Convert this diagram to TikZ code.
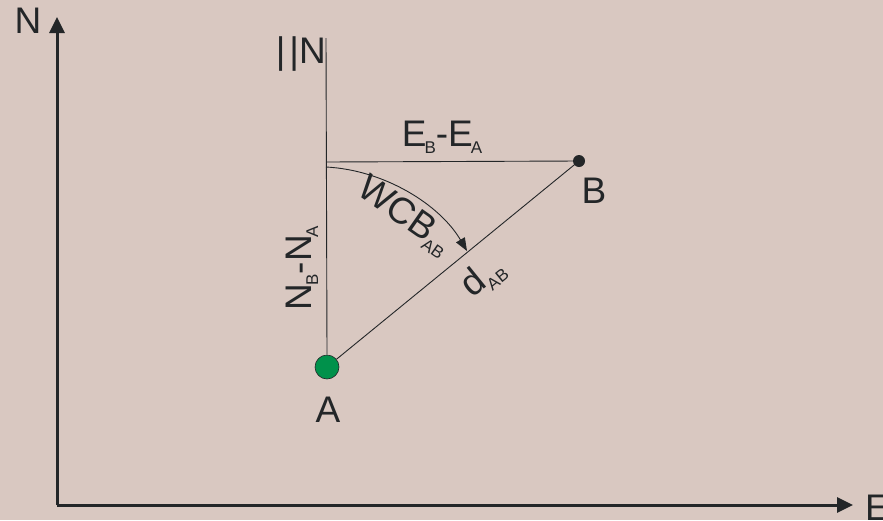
\documentclass[tikz,border=0pt]{standalone}
\usepackage{fontspec}
\setmainfont{Liberation Sans}
\usetikzlibrary{arrows.meta}
\definecolor{bg}{RGB}{217,200,193}
\definecolor{ink}{RGB}{35,38,40}
\definecolor{agreen}{RGB}{0,145,75}
\newcommand{\lbl}{\fontsize{37}{40}\selectfont}
\newcommand{\sbs}[1]{\kern-2pt\raisebox{-7pt}{\fontsize{17}{17}\selectfont #1}}
\tikzset{
  axis/.style={draw=ink, line width=3pt, -{Triangle[length=16pt,width=15pt]}},
  thin/.style={draw=ink, line width=0.9pt},
  txt/.style={inner sep=0pt, text=ink, font=\lbl},
}
\begin{document}
\begin{tikzpicture}[x=1pt,y=-1pt]
\fill[bg] (0,0) rectangle (883,520);
\useasboundingbox (0,0) rectangle (883,520);
% axes
\coordinate (O) at (57,505);
\coordinate (Ntip) at (57,17);
\coordinate (Etip) at (853,505);
\draw[axis] (O) -- (Ntip);
\draw[axis] (O) -- (Etip);
\node[txt, anchor=base] (Nl) at (28,33) {N};
\node[txt, anchor=base west] (El) at (865,520) {E};
% points
\node[circle, fill=agreen, draw=ink, line width=0.6pt, minimum size=24pt, inner sep=0pt] (A) at (327,367) {};
\node[circle, fill=ink, minimum size=12pt, inner sep=0pt] (B) at (579,161) {};
\coordinate (Ntop) at (326,38);
\coordinate (C) at (326,162);
\coordinate (Arc) at (467,251);
% lines
\draw[thin] (Ntop) -- (A.north);
\draw[thin] (C) -- (B.center);
\draw[thin] (A) -- (B.center);
\draw[thin, -{Triangle[length=13pt,width=10pt]}] (326,167) .. controls (385,170) and (440,205) .. (Arc);
% labels
\node[txt, anchor=base] (Al) at (328,422) {A};
\node[txt, anchor=base] (Bl) at (594,203) {B};
\node[txt, anchor=base east] (Np) at (326,63) {|\kern4pt|N};
\node[txt, anchor=base] (dE) at (442,146) {E\sbs{B}-E\sbs{A}};
\node[txt, anchor=base, rotate=90] (dN) at (311,268) {N\sbs{B}-N\sbs{A}};
\node[txt, anchor=base, rotate=-35] (wcb) at (399,224) {WCB\sbs{AB}};
\node[txt, anchor=base, rotate=39] (dl) at (489,285) {d\kern2pt\sbs{AB}};
\end{tikzpicture}
\end{document}
